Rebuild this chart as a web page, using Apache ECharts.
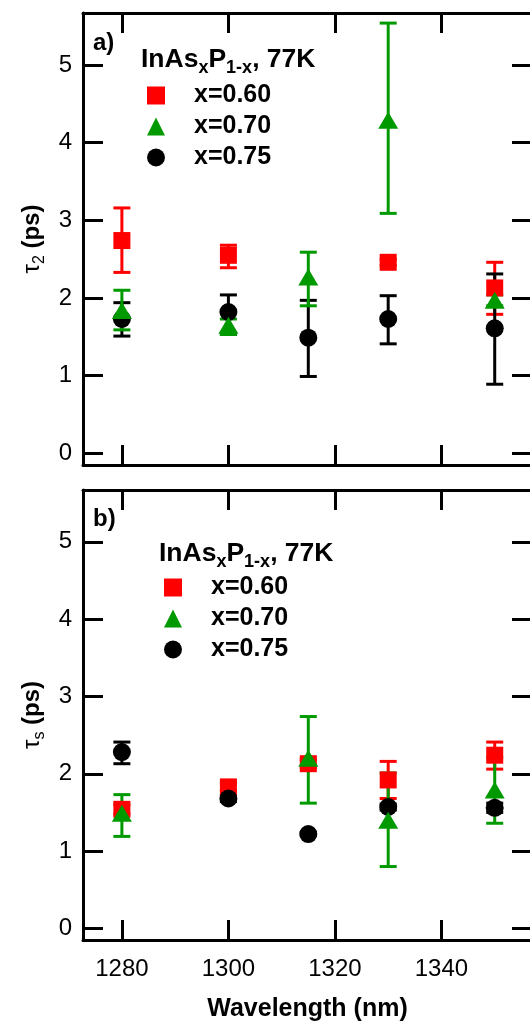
<!DOCTYPE html>
<html>
<head>
<meta charset="utf-8">
<script src="https://cdn.jsdelivr.net/npm/echarts@6/dist/echarts.min.js"></script>
<style>
  html, body { margin: 0; padding: 0; background: #fff; }
  #chart { width: 530px; height: 1021px; }
</style>
</head>
<body>
<div id="chart"></div>
<script>
// wavelengths (nm)
const wavelength = [1280, 1300, 1315, 1330, 1350];
const xTicks = [1280, 1300, 1320, 1340];
const yTicks = [0, 1, 2, 3, 4, 5];

// panel a) tau_2 (ps)
const t2Red = [2.74, 2.55, null, 2.46, 2.13];
const t2RedLo = [2.33, 2.39, null, 2.42, 1.79];
const t2RedHi = [3.16, 2.68, null, 2.50, 2.46];
const t2Green = [1.84, 1.65, 2.27, 4.29, 1.97];
const t2GreenLo = [1.59, 1.53, 1.90, 3.09, 1.90];
const t2GreenHi = [2.10, 1.73, 2.59, 5.54, 2.04];
const t2Black = [1.73, 1.82, 1.49, 1.73, 1.61];
const t2BlackLo = [1.51, 1.53, 0.99, 1.41, 0.89];
const t2BlackHi = [1.94, 2.04, 1.97, 2.03, 2.31];

// panel b) tau_s (ps)
const tsRed = [1.54, 1.83, 2.13, 1.92, 2.24];
const tsRedLo = [1.48, 1.78, 2.08, 1.68, 2.06];
const tsRedHi = [1.60, 1.88, 2.18, 2.16, 2.41];
const tsGreen = [1.49, null, 2.20, 1.40, 1.79];
const tsGreenLo = [1.19, null, 1.62, 0.80, 1.36];
const tsGreenHi = [1.73, null, 2.74, 2.01, 2.21];
const tsBlack = [2.28, 1.68, 1.22, 1.57, 1.56];
const tsBlackLo = [2.13, 1.64, 1.20, 1.53, 1.50];
const tsBlackHi = [2.41, 1.72, 1.24, 1.61, 1.62];

const names = ["x=0.60", "x=0.70", "x=0.75"];
const RED = "#ff0000";
const GREEN = "#009a00";
const BLACK = "#000000";
const FONT = "Liberation Sans";

const points = (vals) =>
  wavelength.map((w, i) => [w, vals[i]]).filter((p) => p[1] != null);
const bars = (lo, hi) =>
  wavelength.map((w, i) => [w, lo[i], hi[i]]).filter((p) => p[1] != null);

const renderErrorBar = (params, api) => {
  const x = api.value(0);
  const lo = api.coord([x, api.value(1)]);
  const hi = api.coord([x, api.value(2)]);
  const half = 8.5;
  const style = { stroke: api.visual("color"), lineWidth: 3 };
  return {
    type: "group",
    children: [
      { type: "line", shape: { x1: lo[0], y1: lo[1], x2: hi[0], y2: hi[1] }, style },
      { type: "line", shape: { x1: lo[0] - half, y1: lo[1], x2: lo[0] + half, y2: lo[1] }, style },
      { type: "line", shape: { x1: hi[0] - half, y1: hi[1], x2: hi[0] + half, y2: hi[1] }, style },
    ],
  };
};

const errSeries = (data, color, axis) => ({
  type: "custom",
  xAxisIndex: axis,
  yAxisIndex: axis,
  data: data,
  itemStyle: { color: color },
  renderItem: renderErrorBar,
  encode: { x: 0, y: [1, 2] },
  silent: true,
  z: 2,
});

const markSeries = (name, data, color, symbol, size, axis) => ({
  name: name,
  type: "scatter",
  xAxisIndex: axis,
  yAxisIndex: axis,
  data: data,
  symbol: symbol,
  symbolSize: size,
  itemStyle: { color: color, opacity: 1 },
  z: 3,
});

const lineStyle = { color: "#000", width: 3 };

const xAxisBase = (grid, pos, labels) => ({
  gridIndex: grid,
  type: "value",
  position: pos,
  min: 1272.7,
  max: 1357,
  axisLine: { onZero: false, lineStyle },
  axisTick: { inside: true, length: 20, lineStyle, customValues: xTicks },
  axisLabel: {
    show: labels,
    customValues: xTicks,
    formatter: (v) => String(v),
    fontFamily: FONT,
    fontSize: 24,
    color: "#000",
    margin: 17,
  },
  splitLine: { show: false },
});

const yAxisBase = (grid, pos, labels, nameText) => ({
  gridIndex: grid,
  type: "value",
  position: pos,
  min: -0.15,
  max: 5.67,
  axisLine: { onZero: false, lineStyle },
  axisTick: { inside: true, length: 20, lineStyle, customValues: yTicks },
  axisLabel: {
    show: labels,
    customValues: yTicks,
    fontFamily: FONT,
    fontSize: 24,
    color: "#000",
    margin: 11,
  },
  splitLine: { show: false },
  name: nameText || "",
  nameLocation: "middle",
  nameRotate: 90,
  nameGap: 33,
  nameTextStyle: {
    rich: {
      t: { fontFamily: FONT, fontSize: 24, color: "#000" },
      b: { fontFamily: FONT, fontSize: 24, fontWeight: "bold", color: "#000" },
      s: { fontFamily: FONT, fontSize: 16, color: "#000", verticalAlign: "bottom", lineHeight: 30 },
    },
  },
});

const headRich = {
  m: { fontFamily: FONT, fontSize: 26.5, fontWeight: "bold", color: "#000", lineHeight: 30 },
  s: { fontFamily: FONT, fontSize: 18, fontWeight: "bold", color: "#000", verticalAlign: "bottom", lineHeight: 34 },
};
const headText = "{m|InAs}{s|x}{m|P}{s|1-x}{m|, 77K}";

const legendBase = (left, top) => ({
  left: left,
  top: top,
  orient: "vertical",
  itemWidth: 18,
  itemHeight: 18,
  itemGap: 6,
  selectedMode: false,
  padding: 0,
  data: [
    { name: names[0], icon: "rect" },
    { name: names[1], icon: "triangle" },
    { name: names[2], icon: "circle" },
  ],
  textStyle: {
    fontFamily: FONT,
    fontSize: 25,
    fontWeight: "bold",
    color: "#000",
    lineHeight: 18,
    padding: [0, 0, 0, 24],
  },
});

const chart = echarts.init(document.getElementById("chart"));

chart.setOption({
  animation: false,
  backgroundColor: "#fff",
  title: [
    { text: "a)", left: 93, top: 31, padding: 0, textStyle: { fontFamily: FONT, fontSize: 24, fontWeight: "bold", color: "#000" } },
    { text: headText, left: 141, top: 43, padding: 0, textStyle: { rich: headRich } },
    { text: "b)", left: 93, top: 507, padding: 0, textStyle: { fontFamily: FONT, fontSize: 24, fontWeight: "bold", color: "#000" } },
    { text: headText, left: 159, top: 537, padding: 0, textStyle: { rich: headRich } },
  ],
  legend: [legendBase(147, 83), legendBase(164, 575)],
  grid: [
    { left: 83, right: -2, top: 13, height: 452, outerBoundsMode: "none" },
    { left: 83, right: -2, top: 490, height: 450, outerBoundsMode: "none" },
  ],
  xAxis: [
    xAxisBase(0, "bottom", false),
    xAxisBase(1, "bottom", true),
    xAxisBase(0, "top", false),
    xAxisBase(1, "top", false),
  ].map((a, i) =>
    i === 1
      ? Object.assign(a, {
          name: "Wavelength (nm)",
          nameLocation: "middle",
          nameGap: 57,
          nameTextStyle: { fontFamily: FONT, fontSize: 25, fontWeight: "bold", color: "#000" },
        })
      : a
  ),
  yAxis: [
    yAxisBase(0, "left", true, "{t|τ}{s|2}{b| (ps)}"),
    yAxisBase(1, "left", true, "{t|τ}{s|s}{b| (ps)}"),
    yAxisBase(0, "right", false),
    yAxisBase(1, "right", false),
  ],
  series: [
    // panel a
    errSeries(bars(t2RedLo, t2RedHi), RED, 0),
    markSeries(names[0], points(t2Red), RED, "rect", 17, 0),
    errSeries(bars(t2BlackLo, t2BlackHi), BLACK, 0),
    markSeries(names[2], points(t2Black), BLACK, "circle", 18, 0),
    errSeries(bars(t2GreenLo, t2GreenHi), GREEN, 0),
    markSeries(names[1], points(t2Green), GREEN, "triangle", [20, 17], 0),
    // panel b
    errSeries(bars(tsRedLo, tsRedHi), RED, 1),
    markSeries(names[0], points(tsRed), RED, "rect", 17, 1),
    errSeries(bars(tsBlackLo, tsBlackHi), BLACK, 1),
    markSeries(names[2], points(tsBlack), BLACK, "circle", 18, 1),
    errSeries(bars(tsGreenLo, tsGreenHi), GREEN, 1),
    markSeries(names[1], points(tsGreen), GREEN, "triangle", [20, 17], 1),
  ],
});
</script>
</body>
</html>
